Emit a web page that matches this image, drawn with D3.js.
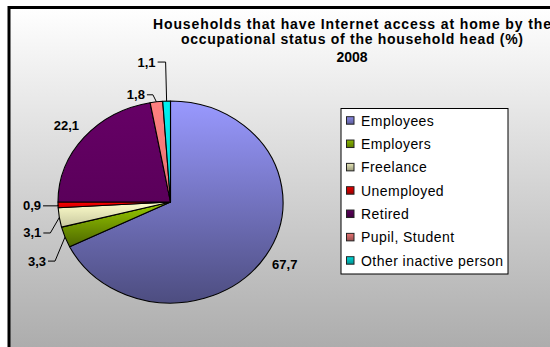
<!DOCTYPE html>
<html>
<head>
<meta charset="utf-8">
<script src="https://cdn.jsdelivr.net/npm/d3@7/dist/d3.min.js"></script>
<style>
  html, body { margin: 0; padding: 0; background: #fff; }
  svg { display: block; font-family: "Liberation Sans", Arial, sans-serif; }
</style>
</head>
<body>
<svg id="chart" width="550" height="347"></svg>
<script>
// Households with Internet access at home, by occupational status of household head (%), 2008
const categories = ["Employees", "Employers", "Freelance", "Unemployed", "Retired", "Pupil, Student", "Other inactive person"];
const values = [67.7, 3.3, 3.1, 0.9, 22.1, 1.8, 1.1];
const valueLabels = ["67,7", "3,3", "3,1", "0,9", "22,1", "1,8", "1,1"];
const colors = ["#9999ff", "#99cc00", "#ffffcc", "#ff0000", "#660066", "#ff8080", "#00f0f0"];
// how far each slice's shading darkens towards its bottom edge
const shade = [0.5, 0.5, 0.22, 0.2, 0.12, 0.1, 0.1];
const titleLines = ["Households that have Internet access at home by the",
                    "occupational status of the household head (%)",
                    "2008"];

const W = 550, H = 347;
const svg = d3.select("#chart");
const defs = svg.append("defs");

// chart area background: white to grey
const bg = defs.append("linearGradient").attr("id", "bg")
  .attr("x1", 0).attr("y1", 0).attr("x2", 0).attr("y2", 1);
bg.append("stop").attr("offset", 0).attr("stop-color", "#ffffff");
bg.append("stop").attr("offset", 1).attr("stop-color", "#a6a6a6");

svg.append("rect").attr("x", 9).attr("y", 7.5).attr("width", W + 20).attr("height", H + 20)
  .attr("fill", "url(#bg)").attr("stroke", "#000").attr("stroke-width", 3);

// title
const title = svg.append("g").attr("font-weight", "bold").attr("font-size", 14)
  .attr("text-anchor", "middle").attr("fill", "#000");
const titleY = [28.5, 43.5, 61.5];
const titleW = [398, 342, null];
titleLines.forEach((t, i) => {
  const tx = title.append("text").attr("x", 352).attr("y", titleY[i]).text(t);
  if (titleW[i]) tx.attr("textLength", titleW[i]).attr("lengthAdjust", "spacing");
});

// pie geometry (slightly wider than tall)
const cx = 170.5, cy = 202, r = 101, sx = 1.114;
const pie = d3.pie().sort(null).value(d => d.value);
const arcs = pie(categories.map((c, i) => ({ name: c, value: values[i], color: colors[i], label: valueLabels[i] })));
const arc = d3.arc().innerRadius(0).outerRadius(r);

// each slice shades from its colour at the top to a darker tone at its bottom
arcs.forEach((a, i) => {
  const g = defs.append("linearGradient").attr("id", "slice" + i)
    .attr("x1", 0).attr("y1", 0).attr("x2", 0).attr("y2", 1);
  g.append("stop").attr("offset", 0).attr("stop-color", a.data.color);
  g.append("stop").attr("offset", 1).attr("stop-color", d3.interpolateRgb(a.data.color, "#000")(shade[i]));
});

const pieG = svg.append("g").attr("transform", `translate(${cx},${cy}) scale(${sx},1)`);
pieG.selectAll("path").data(arcs).join("path")
  .attr("d", arc)
  .attr("fill", (d, i) => `url(#slice${i})`)
  .attr("stroke", "#000")
  .attr("stroke-width", 1.1)
  .attr("stroke-linejoin", "round")
  .attr("vector-effect", "non-scaling-stroke");

// point on the pie rim at the middle of each slice
function rimPoint(d) {
  const a = (d.startAngle + d.endAngle) / 2;
  return [cx + sx * r * Math.sin(a), cy - r * Math.cos(a)];
}

// label placement: leader elbow offset from rim (ex, ey), horizontal run (hx); or free text offset
const labelLayout = {
  "Employees":             { text: [6, 14], anchor: "start" },
  "Employers":             { ex: -10, ey: 24, hx: -7 },
  "Freelance":             { ex: -9, ey: 15.5, hx: -7 },
  "Unemployed":            { ex: 0, ey: 1, hx: -15 },
  "Retired":               { text: [-5, -7.5], anchor: "end" },
  "Pupil, Student":        { ex: -3.5, ey: -7, hx: -6 },
  "Other inactive person": { ex: -1, ey: -39, hx: -8 }
};

const labels = svg.append("g").attr("font-weight", "bold").attr("font-size", 13).attr("fill", "#000");
arcs.forEach(d => {
  const L = labelLayout[d.data.name];
  const [px, py] = rimPoint(d);
  if (L.text) {
    labels.append("text").attr("x", px + L.text[0]).attr("y", py + L.text[1])
      .attr("text-anchor", L.anchor).text(d.data.label);
  } else {
    const bx = px + L.ex, by = py + L.ey, endx = bx + L.hx;
    svg.append("path")
      .attr("d", d3.line()([[px, py], [bx, by], [endx, by]]))
      .attr("fill", "none").attr("stroke", "#000").attr("stroke-width", 1);
    labels.append("text").attr("x", endx - 2).attr("y", by + 4.5)
      .attr("text-anchor", "end").text(d.data.label);
  }
});

// legend
const legX = 341, legY = 108.5, legW = 167, legH = 165.5;
const legend = svg.append("g");
legend.append("rect").attr("x", legX).attr("y", legY).attr("width", legW).attr("height", legH)
  .attr("fill", "#fff").attr("stroke", "#000").attr("stroke-width", 1);

const rowY = d3.scalePoint().domain(categories).range([120.7, 260.7]);
categories.forEach((c, i) => {
  const g = defs.append("linearGradient").attr("id", "key" + i)
    .attr("x1", 0).attr("y1", 0).attr("x2", 0).attr("y2", 1);
  g.append("stop").attr("offset", 0).attr("stop-color", d3.interpolateRgb(colors[i], "#000")(0.1));
  g.append("stop").attr("offset", 1).attr("stop-color", d3.interpolateRgb(colors[i], "#000")(0.4));
  const y = rowY(c);
  legend.append("rect").attr("x", 346.5).attr("y", y - 4).attr("width", 7.5).attr("height", 7.5)
    .attr("fill", `url(#key${i})`).attr("stroke", "#222").attr("stroke-width", 1);
  legend.append("text").attr("x", 361).attr("y", y + 5)
    .attr("font-size", 14).attr("letter-spacing", 0.45).attr("fill", "#000").text(c);
});
</script>
</body>
</html>
